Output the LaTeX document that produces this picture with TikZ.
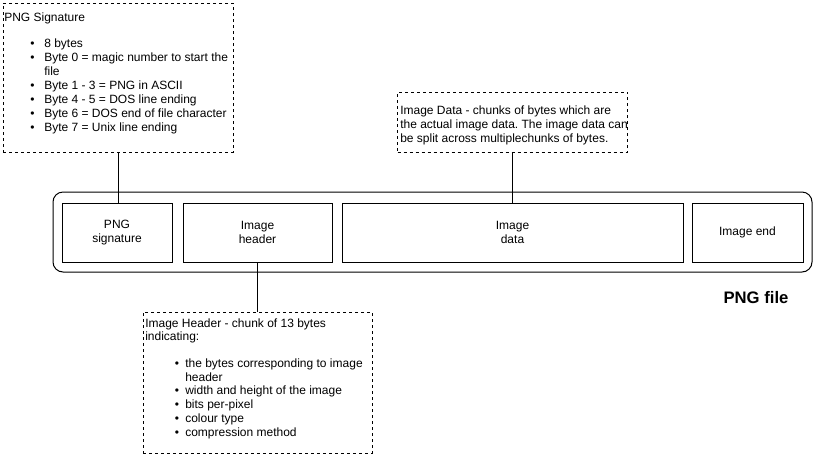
\documentclass[tikz,border=0pt]{standalone}
\usepackage{fontspec}
\setmainfont{Liberation Sans}
\frenchspacing
\begin{document}
\begin{tikzpicture}[x=0.75pt,y=-0.75pt,
  every node/.style={font=\fontsize{9}{10.9}\selectfont},
  note/.style={draw, dash pattern=on 2.25pt off 2.25pt, line width=0.75pt, inner sep=0pt},
  part/.style={draw, line width=0.75pt, inner sep=0pt, align=center, minimum height=44.25pt},
  txt/.style={anchor=base west, inner sep=0pt},
  bul/.style={anchor=base, inner sep=0pt},
  link/.style={line width=0.75pt}]
\fill[white] (0,0) rectangle (815,455);
\useasboundingbox (0,0) rectangle (815,455);
% container
\node[draw, line width=0.75pt, rounded corners=7.5pt, minimum width=569.25pt, minimum height=60pt, inner sep=0pt] (file) at (432.5,232) {};
\node[part, minimum width=82.5pt] (b1) at (117,232.5) {PNG\\signature};
\node[part, minimum width=111.75pt] (b2) at (257.5,232.5) {Image\\header};
\node[part, minimum width=255.75pt] (b3) at (512.5,232.5) {Image\\data};
\node[part, minimum width=83.25pt] (b4) at (747.5,232.5) {Image end};
\node[inner sep=0pt, font=\fontsize{12.5}{14}\selectfont\bfseries] (lbl) at (756,298) {PNG file};
% notes
\node[note, minimum width=172.5pt, minimum height=111.75pt] (sig) at (118,77.5) {};
\node[note, minimum width=172.5pt, minimum height=45pt] (dat) at (512.5,122) {};
\node[note, minimum width=171.75pt, minimum height=105.75pt] (hdr) at (257.5,382.5) {};
% connectors
\draw[link] (sig.south) -- (sig.south |- b1.north);
\draw[link] (dat.south) -- (b3.north);
\draw[link] (b2.south) -- (hdr.north);
% signature note text
\node[txt] (s0) at (4,21) {PNG Signature};
\node[bul] (sb1) at (32.5,47) {•};
\node[txt] (s1) at (44,47) {8 bytes};
\node[bul] (sb2) at (32.5,61.5) {•};
\node[txt] (s2) at (44,61.5) {Byte 0 = magic number to start the};
\node[txt] (s2b) at (44,75.5) {file};
\node[bul] (sb3) at (32.5,89.5) {•};
\node[txt] (s3) at (44,89.5) {Byte 1 - 3 = PNG in ASCII};
\node[bul] (sb4) at (32.5,103.5) {•};
\node[txt] (s4) at (44,103.5) {Byte 4 - 5 = DOS line ending};
\node[bul] (sb5) at (32.5,117.5) {•};
\node[txt] (s5) at (44,117.5) {Byte 6 = DOS end of file character};
\node[bul] (sb6) at (32.5,131.5) {•};
\node[txt] (s6) at (44,131.5) {Byte 7 = Unix line ending};
% data note text
\node[txt] (d1) at (400,114) {Image Data - chunks of bytes which are};
\node[txt] (d2) at (400,128) {the actual image data. The image data can};
\node[txt] (d3) at (400,142) {be split across multiplechunks of bytes.};
% header note text
\node[txt] (h0) at (145,327) {Image Header - chunk of 13 bytes};
\node[txt] (h0b) at (145,340.5) {indicating:};
\node[bul] (hb1) at (177,367.5) {•};
\node[txt] (h1) at (185,367.5) {the bytes corresponding to image};
\node[txt] (h1b) at (185,381) {header};
\node[bul] (hb2) at (177,394.5) {•};
\node[txt] (h2) at (185,394.5) {width and height of the image};
\node[bul] (hb3) at (177,408.5) {•};
\node[txt] (h3) at (185,408.5) {bits per-pixel};
\node[bul] (hb4) at (177,422.5) {•};
\node[txt] (h4) at (185,422.5) {colour type};
\node[bul] (hb5) at (177,436.5) {•};
\node[txt] (h5) at (185,436.5) {compression method};
\end{tikzpicture}
\end{document}
